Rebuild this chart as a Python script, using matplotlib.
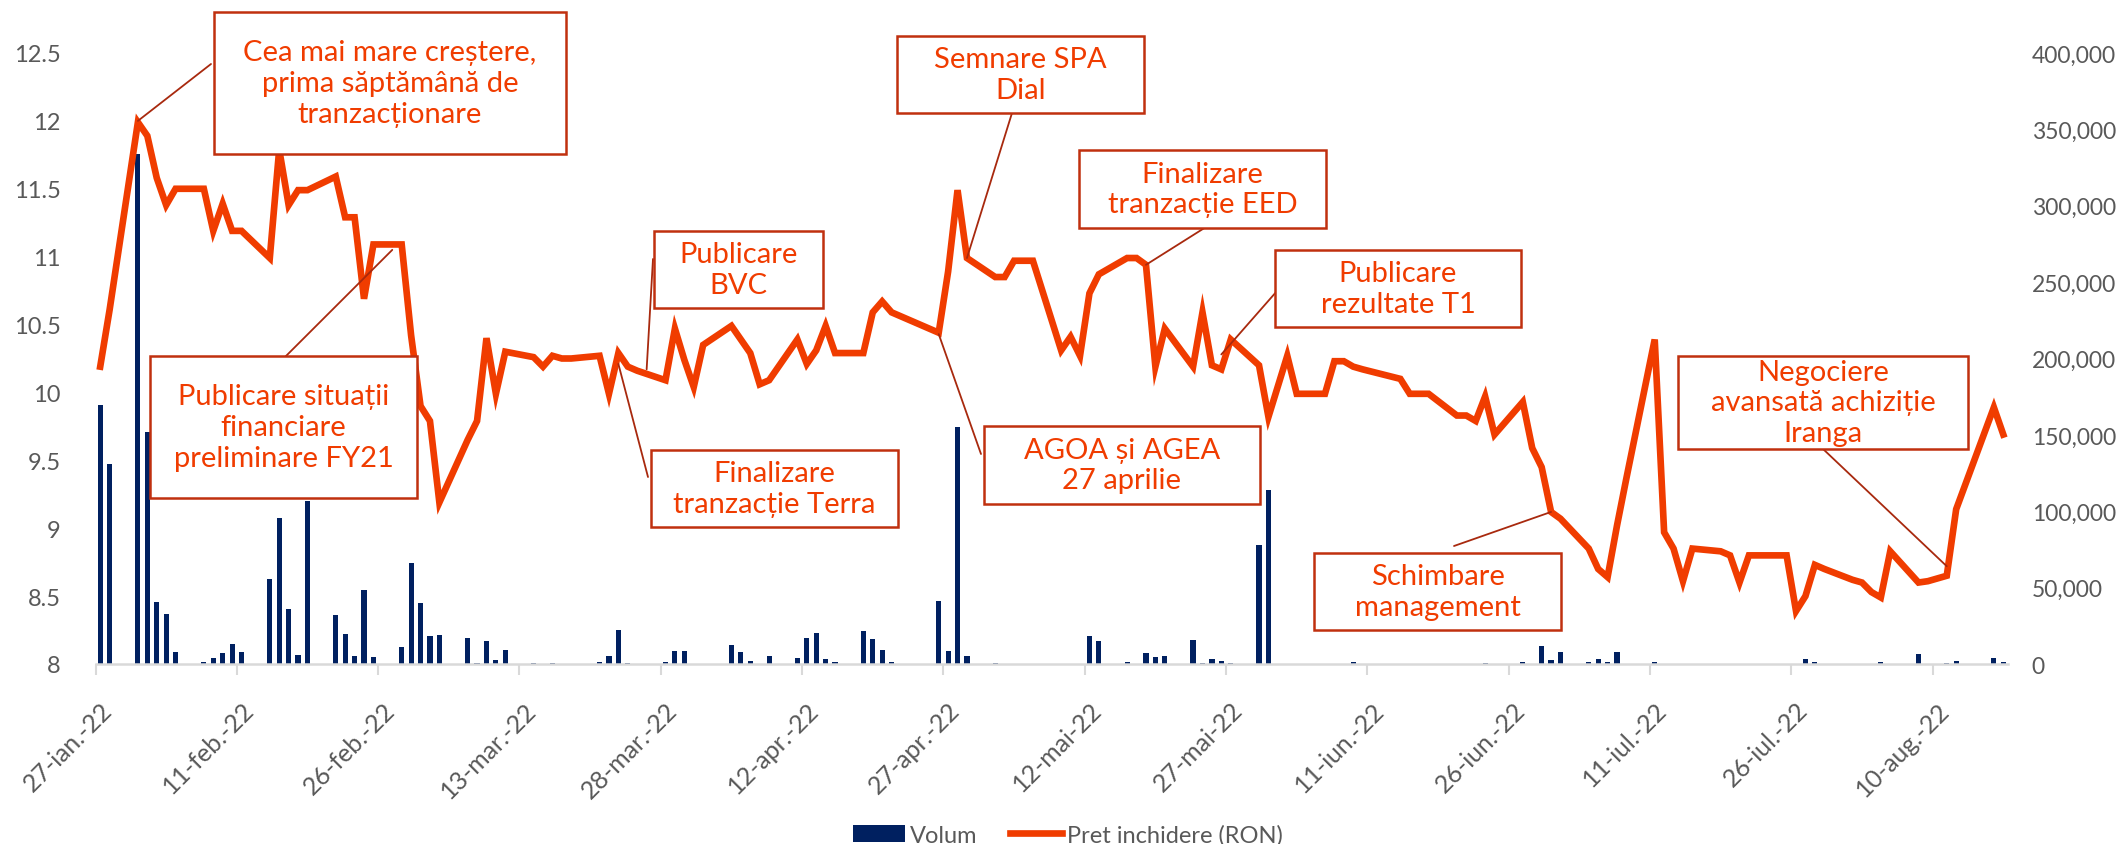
import numpy as np
import pandas as pd
import matplotlib
matplotlib.use("Agg")
import matplotlib.pyplot as plt
import matplotlib.dates as mdates
from matplotlib.patches import Rectangle, Patch, ConnectionPatch
from matplotlib.lines import Line2D
from matplotlib.ticker import FuncFormatter, FixedLocator
from matplotlib.transforms import ScaledTranslation

plt.rcParams['font.family'] = ['Lato', 'Open Sans', 'DejaVu Sans']

# ---- date / pret / volum ----
zile = ["2022-01-27", "2022-01-28", "2022-01-31", "2022-02-01", "2022-02-02", "2022-02-03", "2022-02-04",
        "2022-02-07", "2022-02-08", "2022-02-09", "2022-02-10", "2022-02-11",
        "2022-02-14", "2022-02-15", "2022-02-16", "2022-02-17", "2022-02-18",
        "2022-02-21", "2022-02-22", "2022-02-23", "2022-02-24", "2022-02-25",
        "2022-02-28", "2022-03-01", "2022-03-02", "2022-03-03", "2022-03-04",
        "2022-03-07", "2022-03-08", "2022-03-09", "2022-03-10", "2022-03-11",
        "2022-03-14", "2022-03-15", "2022-03-16", "2022-03-17", "2022-03-18",
        "2022-03-21", "2022-03-22", "2022-03-23", "2022-03-24", "2022-03-25",
        "2022-03-28", "2022-03-29", "2022-03-30", "2022-03-31", "2022-04-01",
        "2022-04-04", "2022-04-05", "2022-04-06", "2022-04-07", "2022-04-08",
        "2022-04-11", "2022-04-12", "2022-04-13", "2022-04-14", "2022-04-15",
        "2022-04-18", "2022-04-19", "2022-04-20", "2022-04-21",
        "2022-04-26", "2022-04-27", "2022-04-28", "2022-04-29",
        "2022-05-02", "2022-05-03", "2022-05-04", "2022-05-05", "2022-05-06",
        "2022-05-09", "2022-05-10", "2022-05-11", "2022-05-12", "2022-05-13",
        "2022-05-16", "2022-05-17", "2022-05-18", "2022-05-19", "2022-05-20",
        "2022-05-23", "2022-05-24", "2022-05-25", "2022-05-26", "2022-05-27",
        "2022-05-30", "2022-05-31", "2022-06-02", "2022-06-03",
        "2022-06-06", "2022-06-07", "2022-06-08", "2022-06-09", "2022-06-10",
        "2022-06-14", "2022-06-15", "2022-06-16", "2022-06-17",
        "2022-06-20", "2022-06-21", "2022-06-22", "2022-06-23", "2022-06-24",
        "2022-06-27", "2022-06-28", "2022-06-29", "2022-06-30", "2022-07-01",
        "2022-07-04", "2022-07-05", "2022-07-06", "2022-07-07", "2022-07-08",
        "2022-07-11", "2022-07-12", "2022-07-13", "2022-07-14", "2022-07-15",
        "2022-07-18", "2022-07-19", "2022-07-20", "2022-07-21", "2022-07-22",
        "2022-07-25", "2022-07-26", "2022-07-27", "2022-07-28", "2022-07-29",
        "2022-08-01", "2022-08-02", "2022-08-03", "2022-08-04", "2022-08-05",
        "2022-08-08", "2022-08-09", "2022-08-10", "2022-08-11", "2022-08-12",
        "2022-08-16", "2022-08-17"]

pret = [10.19, 10.61, 11.99, 11.89, 11.58, 11.38, 11.50,
        11.50, 11.19, 11.39, 11.19, 11.19,
        10.99, 11.79, 11.38, 11.49, 11.49,
        11.59, 11.29, 11.29, 10.69, 11.09,
        11.09, 10.42, 9.90, 9.79, 9.19,
        9.65, 9.79, 10.40, 9.99, 10.30,
        10.26, 10.19, 10.27, 10.25, 10.25,
        10.27, 9.99, 10.29, 10.19, 10.16,
        10.09, 10.47, 10.24, 10.04, 10.35,
        10.49, 10.39, 10.29, 10.06, 10.09,
        10.39, 10.21, 10.31, 10.49, 10.29,
        10.29, 10.59, 10.67, 10.59,
        10.44, 10.89, 11.49, 10.99,
        10.85, 10.85, 10.97, 10.97, 10.97,
        10.31, 10.41, 10.27, 10.73, 10.87,
        10.99, 10.99, 10.94, 10.19, 10.47,
        10.19, 10.59, 10.20, 10.17, 10.39,
        10.20, 9.82, 10.27, 9.99,
        9.99, 10.23, 10.23, 10.19, 10.17,
        10.10, 9.99, 9.99, 9.99,
        9.83, 9.83, 9.79, 9.97, 9.69,
        9.93, 9.59, 9.45, 9.12, 9.07,
        8.85, 8.70, 8.64, 9.02, 9.37,
        10.39, 8.97, 8.85, 8.61, 8.85,
        8.83, 8.80, 8.60, 8.80, 8.80,
        8.80, 8.39, 8.50, 8.73, 8.70,
        8.62, 8.60, 8.53, 8.49, 8.83,
        8.60, 8.61, 8.63, 8.65, 9.14,
        9.89, 9.69]

volum = [169400, 130800, 333900, 152200, 40300, 32700, 7600,
         1100, 3700, 7000, 13100, 8100,
         55600, 95300, 36000, 5900, 106400,
         32000, 19600, 5000, 48400, 4800,
         10900, 65800, 39900, 18100, 19200,
         16800, 400, 14800, 2600, 8900,
         400, 300, 500, 200, 200,
         1100, 5000, 22200, 400, 0,
         1100, 8700, 8300, 0, 200,
         12400, 7600, 2200, 300, 5500,
         3900, 17000, 20000, 3300, 1100,
         21800, 16400, 9200, 1100,
         41000, 8700, 155400, 5000,
         500, 300, 300, 200, 300,
         300, 200, 300, 18100, 15300,
         1100, 0, 7200, 4400, 5000,
         15900, 400, 3300, 1700, 400,
         77800, 114000, 300, 200,
         300, 200, 300, 1100, 200,
         300, 200, 300, 200,
         200, 300, 300, 600, 200,
         1500, 200, 11600, 2800, 8100,
         1500, 3300, 1500, 8100, 0,
         1100, 300, 200, 300, 200,
         200, 300, 200, 300, 200,
         300, 200, 3300, 1500, 0,
         200, 300, 200, 1500, 200,
         6500, 200, 300, 400, 2200,
         3700, 1500]

tick_zile = ["2022-01-27", "2022-02-11", "2022-02-26", "2022-03-13", "2022-03-28", "2022-04-12",
             "2022-04-27", "2022-05-12", "2022-05-27", "2022-06-11", "2022-06-26", "2022-07-11",
             "2022-07-26", "2022-08-10"]
tick_etichete = ["27-ian.-22", "11-feb.-22", "26-feb.-22", "13-mar.-22", "28-mar.-22", "12-apr.-22",
                 "27-apr.-22", "12-mai-22", "27-mai-22", "11-iun.-22", "26-iun.-22", "11-iul.-22",
                 "26-iul.-22", "10-aug.-22"]

# evenimente: text, (data, pret) pe linie, caseta (x0, y0, x1, y1 in px), capat conector (px)
evenimente = [
    ("Cea mai mare creștere,\nprima săptămână de\ntranzacționare", ("2022-01-31", 12.0), (214, 13, 566, 155), (211, 65)),
    ("Publicare situații\nfinanciare\npreliminare FY21", ("2022-02-27", 11.05), (150, 357, 417, 499), (284, 359)),
    ("Publicare\nBVC", ("2022-03-26", 10.17), (654, 232, 823, 309), (653, 260)),
    ("Finalizare\ntranzacție Terra", ("2022-03-23", 10.21), (651, 451, 898, 528), (648, 478)),
    ("Semnare SPA\nDial", ("2022-04-29", 10.99), (897, 37, 1144, 114), (1012, 114)),
    ("Finalizare\ntranzacție EED", ("2022-05-18", 10.94), (1079, 151, 1326, 229), (1206, 228)),
    ("AGOA și AGEA\n27 aprilie", ("2022-04-26", 10.43), (984, 427, 1260, 505), (981, 455)),
    ("Publicare\nrezultate T1", ("2022-05-26", 10.28), (1275, 251, 1521, 328), (1277, 292)),
    ("Schimbare\nmanagement", ("2022-06-30", 9.12), (1314, 554, 1561, 631), (1454, 547)),
    ("Negociere\navansată achiziție\nIranga", ("2022-08-11", 8.72), (1678, 357, 1968, 450), (1822, 449)),
]

W, H = 2126, 845
def px(x, y):
    return (x / W, 1 - y / H)

navy = '#002060'
portocaliu = '#F03C00'
rosu = '#C0300F'
gri = '#595959'

x = mdates.date2num(pd.to_datetime(zile))

fig = plt.figure(figsize=(W / 100, H / 100), dpi=100)
ax_vol = fig.add_axes([95.5 / W, 1 - 665 / H, (2008 - 95.5) / W, (665 - 54) / H])
ax_pret = ax_vol.twinx()

ax_vol.bar(x, volum, width=0.55, color=navy, label='Volum')
ax_pret.plot(x, pret, color=portocaliu, lw=4.8, solid_joinstyle='miter', label='Pret inchidere (RON)')

ax_vol.set_xlim(x[0] - 0.5, x[-1] + 0.5)
ax_vol.set_ylim(0, 400000)
ax_pret.set_ylim(8, 12.5)

ax_vol.yaxis.tick_right()
ax_pret.yaxis.tick_left()
ax_vol.yaxis.set_major_locator(FixedLocator(np.arange(0, 400001, 50000)))
ax_vol.yaxis.set_major_formatter(FuncFormatter(lambda v, p: f'{v:,.0f}'))
ax_pret.yaxis.set_major_locator(FixedLocator(np.arange(8, 12.51, 0.5)))
ax_pret.yaxis.set_major_formatter(FuncFormatter(lambda v, p: f'{v:g}'))
ax_vol.tick_params(axis='y', length=0, pad=17, labelsize=16.5, labelcolor=gri)
ax_pret.tick_params(axis='y', length=0, pad=25, labelsize=17, labelcolor=gri)

tx = mdates.date2num(pd.to_datetime(tick_zile)) - 0.5
ax_vol.set_xticks(tx)
ax_vol.set_xticklabels(tick_etichete, rotation=45, ha='right', va='center', rotation_mode='anchor')
ax_vol.tick_params(axis='x', length=8, width=1.5, color='#D9D9D9', pad=22, labelsize=18, labelcolor=gri)
for lab in ax_vol.get_xticklabels():
    lab.set_transform(lab.get_transform() + ScaledTranslation(0.13, 0, fig.dpi_scale_trans))

for a in (ax_vol, ax_pret):
    for s in ('top', 'left', 'right'):
        a.spines[s].set_visible(False)
    a.spines['bottom'].set_color('#D9D9D9')
    a.spines['bottom'].set_linewidth(1.8)
ax_pret.spines['bottom'].set_visible(False)
ax_pret.tick_params(axis='x', length=0)

# casete cu evenimente
for text, (d, p), (x0, y0, x1, y1), capat in evenimente:
    fig.add_artist(Rectangle(px(x0, y1), (x1 - x0) / W, (y1 - y0) / H, transform=fig.transFigure,
                             facecolor='white', edgecolor=rosu, lw=1.8, zorder=5))
    cx, cy = px((x0 + x1) / 2, (y0 + y1) / 2)
    fig.text(cx, cy, text, ha='center', va='center', fontsize=21, color=portocaliu,
             linespacing=1.22, zorder=6)
    con = ConnectionPatch(xyA=(mdates.date2num(pd.Timestamp(d)), p), coordsA=ax_pret.transData,
                          xyB=px(*capat), coordsB=fig.transFigure, color='#A8290E', lw=1.3, zorder=4)
    fig.add_artist(con)

handles = [Patch(facecolor=navy), Line2D([0], [0], color=portocaliu, lw=4.8)]
fig.legend(handles, ['Volum', 'Pret inchidere (RON)'], loc='center', bbox_to_anchor=px(1068, 836),
           ncol=2, frameon=False, fontsize=17, labelcolor=gri, handlelength=2.2, handleheight=0.7,
           handletextpad=0.2, columnspacing=1.4)

fig.savefig('out.png', dpi=100)
